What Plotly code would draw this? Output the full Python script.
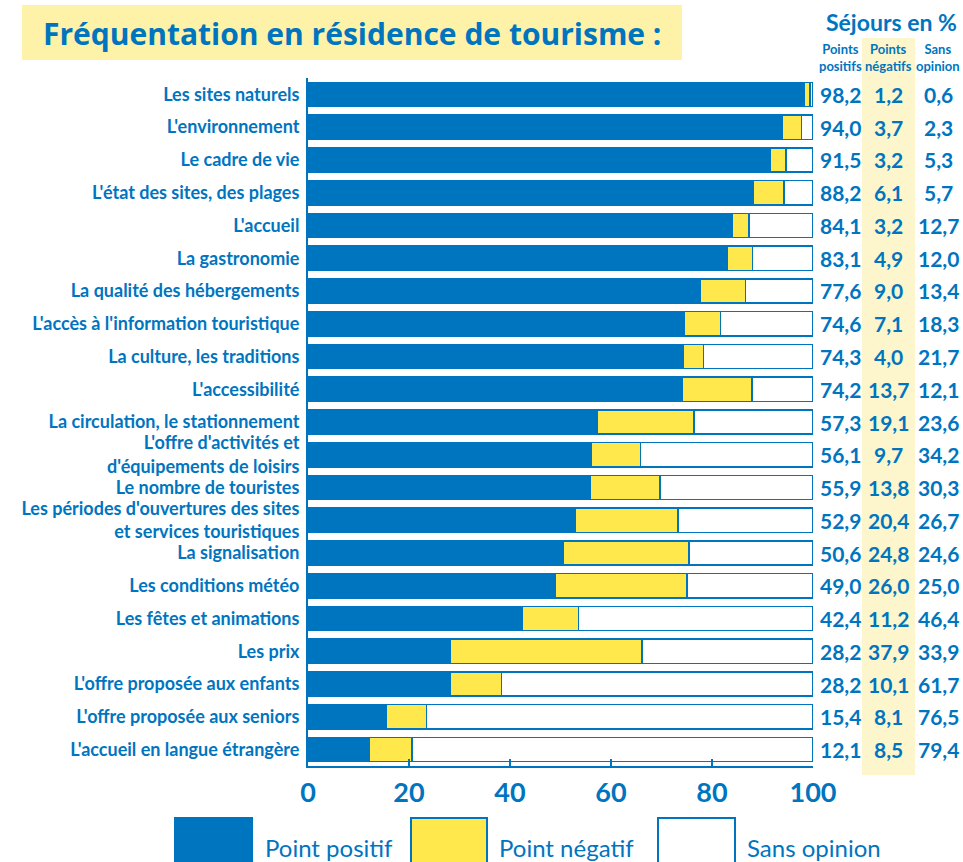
import plotly.graph_objects as go

categories = [
    "Les sites naturels",
    "L'environnement",
    "Le cadre de vie",
    "L'état des sites, des plages",
    "L'accueil",
    "La gastronomie",
    "La qualité des hébergements",
    "L'accès à l'information touristique",
    "La culture, les traditions",
    "L'accessibilité",
    "La circulation, le stationnement",
    "L'offre d'activités et<br>d'équipements de loisirs",
    "Le nombre de touristes",
    "Les périodes d'ouvertures des sites<br>et services touristiques",
    "La signalisation",
    "Les conditions météo",
    "Les fêtes et animations",
    "Les prix",
    "L'offre proposée aux enfants",
    "L'offre proposée aux seniors",
    "L'accueil en langue étrangère",
]
positifs = [98.2, 94.0, 91.5, 88.2, 84.1, 83.1, 77.6, 74.6, 74.3, 74.2, 57.3, 56.1,
            55.9, 52.9, 50.6, 49.0, 42.4, 28.2, 28.2, 15.4, 12.1]
negatifs = [1.2, 3.7, 3.2, 6.1, 3.2, 4.9, 9.0, 7.1, 4.0, 13.7, 19.1, 9.7,
            13.8, 20.4, 24.8, 26.0, 11.2, 37.9, 10.1, 8.1, 8.5]
sans_opinion = [0.6, 2.3, 5.3, 5.7, 12.7, 12.0, 13.4, 18.3, 21.7, 12.1, 23.6, 34.2,
                30.3, 26.7, 24.6, 25.0, 46.4, 33.9, 61.7, 76.5, 79.4]
x_ticks = [0, 20, 40, 60, 80, 100]
series_names = ["Point positif", "Point négatif", "Sans opinion"]
col_headers = ["Points<br>positifs", "Points<br>négatifs", "Sans<br>opinion"]

BLUE = "#0075bf"
YELLOW = "#ffe84c"
WHITE = "#ffffff"
TITLE_BG = "#fdf2a8"
COL_BG = "#fdf6cc"
BOLD = "Lato, 'Open Sans', sans-serif"
TITLEF = "'Open Sans', Lato, sans-serif"

W, H = 963, 862
L, T = 308, 78
R, B = W - 813, H - 766
PW, PH = W - L - R, H - T - B


def px(xr):
    return (xr - L) / PW


def py(yr):
    return (H - B - yr) / PH


ys = list(range(len(categories)))
fig = go.Figure()
for name, vals, col in zip(series_names, [positifs, negatifs, sans_opinion], [BLUE, YELLOW, WHITE]):
    fig.add_trace(go.Bar(
        y=ys, x=vals, orientation="h", name=name,
        marker=dict(color=col, line=dict(color=BLUE, width=1.5)),
        width=0.74, showlegend=False, hoverinfo="x+name",
    ))

annotations = []
shapes = []
# title box
shapes.append(dict(type="rect", xref="paper", yref="paper", x0=px(22), x1=px(682), y0=py(60), y1=py(5),
                   fillcolor=TITLE_BG, line=dict(width=0), layer="below"))
annotations.append(dict(xref="paper", yref="paper", x=px(352), y=py(33), xanchor="center", yanchor="middle",
                        text="<b>Fréquentation en résidence de tourisme :</b>", showarrow=False,
                        font=dict(family=TITLEF, size=30, color=BLUE)))
# negative column background
shapes.append(dict(type="rect", xref="paper", yref="paper", x0=px(862), x1=px(915), y0=py(775), y1=py(38),
                   fillcolor=COL_BG, line=dict(width=0), layer="below"))
annotations.append(dict(xref="paper", yref="paper", x=px(891), y=py(22), xanchor="center", yanchor="middle",
                        text="<b>Séjours en %</b>", showarrow=False,
                        font=dict(family=BOLD, size=23, color=BLUE)))
col_x = [840, 888, 938]
for cx, hdr in zip(col_x, col_headers):
    annotations.append(dict(xref="paper", yref="paper", x=px(cx), y=py(57), xanchor="center", yanchor="middle",
                            text="<b>" + hdr + "</b>", showarrow=False,
                            font=dict(family=BOLD, size=13, color=BLUE)))
for i in ys:
    for cx, vals in zip(col_x, [positifs, negatifs, sans_opinion]):
        annotations.append(dict(xref="paper", yref="y", x=px(cx), y=i, xanchor="center", yanchor="middle",
                                text="<b>" + f"{vals[i]:.1f}".replace(".", ",") + "</b>", showarrow=False,
                                font=dict(family=BOLD, size=21, color=BLUE)))
# legend
leg = [(175, 252, 263, BLUE), (411, 487, 497, YELLOW), (658, 735, 745, WHITE)]
for (x0, x1, tx, col), name in zip(leg, series_names):
    shapes.append(dict(type="rect", xref="paper", yref="paper", x0=px(x0), x1=px(x1), y0=py(868), y1=py(818),
                       fillcolor=col, line=dict(color=BLUE, width=2)))
    annotations.append(dict(xref="paper", yref="paper", x=px(tx), y=py(847), xanchor="left", yanchor="middle",
                            text=name, showarrow=False,
                            font=dict(family="Lato, sans-serif", size=24, color=BLUE)))

fig.update_layout(
    width=W, height=H, margin=dict(l=L, r=R, t=T, b=B, pad=0, autoexpand=False),
    paper_bgcolor="white", plot_bgcolor="white",
    barmode="stack",
    annotations=annotations, shapes=shapes,
    xaxis=dict(range=[0, 100], tickvals=x_ticks, showgrid=False, zeroline=False, automargin=False,
               showline=True, linecolor=BLUE, linewidth=2,
               ticks="inside", ticklen=7, tickwidth=2, tickcolor=BLUE,
               tickfont=dict(family=BOLD, size=27, color=BLUE, weight="bold"), ticklabelstandoff=2),
    yaxis=dict(range=[len(categories) - 0.5, -0.5], tickvals=ys, automargin=False,
               ticktext=["<b>" + c + "</b>" for c in categories],
               showgrid=False, zeroline=False, showline=True, linecolor=BLUE, linewidth=2,
               ticks="", tickfont=dict(family=BOLD, size=18, color=BLUE), ticklabelstandoff=3),
)
fig.write_html("out.html", config={"displayModeBar": False},
               post_script="document.body.style.margin='0px';document.body.style.overflow='hidden';")
